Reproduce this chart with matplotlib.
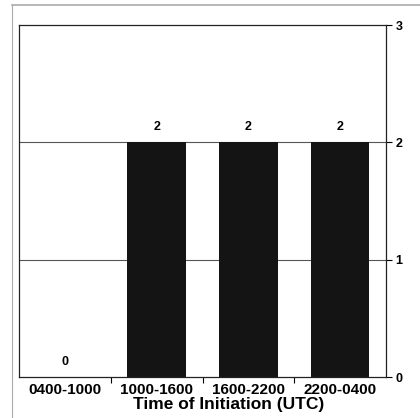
import matplotlib
matplotlib.use("Agg")
import matplotlib.pyplot as plt
from matplotlib.lines import Line2D

categories = ["0400-1000", "1000-1600", "1600-2200", "2200-0400"]
counts = [0, 2, 2, 2]
yticks = [0, 1, 2, 3]

plt.rcParams['font.family'] = ['Liberation Sans', 'DejaVu Sans']

fig = plt.figure(figsize=(4.2, 4.18), dpi=100)
ax = fig.add_axes([19/420, 1 - 377/418, 367/420, 352/418])

x = list(range(len(categories)))
ax.bar(x, counts, width=0.64, color='#141414', zorder=2)
for xi, c in zip(x, counts):
    ax.text(xi, c + 0.08, str(c), ha='center', va='bottom',
            fontsize=9, fontweight='bold', zorder=3)

ax.set_xlim(-0.5, 3.5)
ax.set_ylim(0, 3)
for yv in [1, 2]:
    ax.axhline(yv, color='#555555', lw=0.8, zorder=1)

ax.yaxis.tick_right()
ax.set_yticks(yticks)
ax.set_yticklabels([str(v) for v in yticks], fontsize=9, fontweight='bold')
ax.tick_params(axis='y', length=4, width=0.8, pad=3)

ax.set_xticks(x)
ax.set_xticklabels(categories, fontsize=11, fontweight='bold')
ax.tick_params(axis='x', length=0, pad=4)
ax.set_xticks([0.5, 1.5, 2.5], minor=True)
ax.tick_params(axis='x', which='minor', length=4, width=0.8)
ax.set_xlabel("Time of Initiation (UTC)", fontsize=12.5, fontweight='bold')
ax.xaxis.set_label_coords(0.572, -0.058)

for s in ax.spines.values():
    s.set_linewidth(0.9)
    s.set_color('#222222')

# scanned page border
fig.add_artist(Line2D([12/420, 1], [1 - 5/418, 1 - 5/418], color='#aaaaaa', lw=1.2))
fig.add_artist(Line2D([12/420, 12/420], [0, 1 - 5/418], color='#aaaaaa', lw=0.8))

fig.savefig("out.png", dpi=100)
